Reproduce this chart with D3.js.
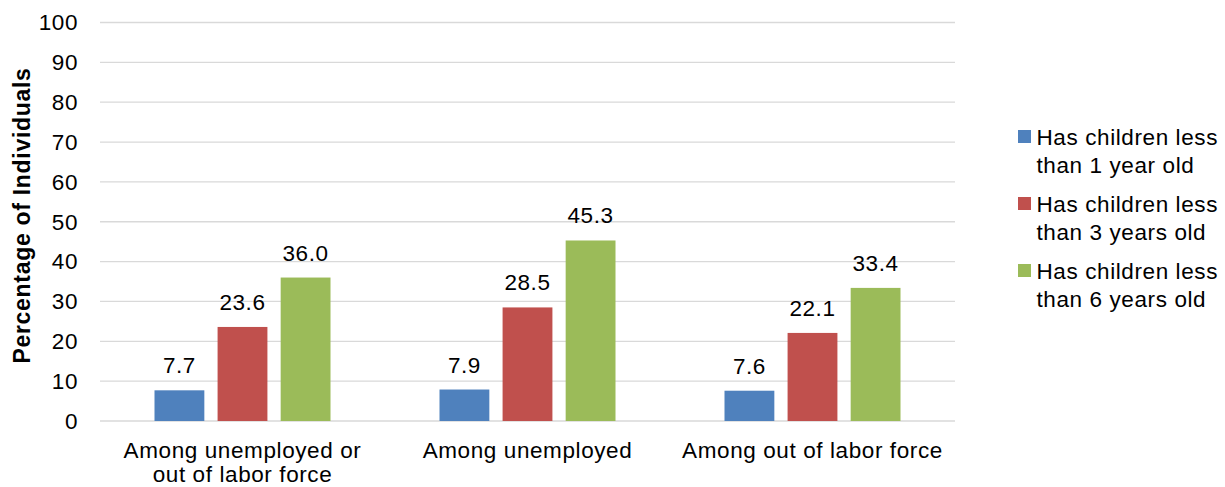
<!DOCTYPE html>
<html>
<head>
<meta charset="utf-8">
<script src="https://cdn.jsdelivr.net/npm/d3@7"></script>
<style>
  html, body { margin: 0; padding: 0; background: #fff; }
  svg { display: block; font-family: "Liberation Sans", Arial, sans-serif; }
  .lbl { letter-spacing: 0.6px; }
</style>
</head>
<body>
<svg id="chart" width="1225" height="487"></svg>
<script>
// Category labels (each entry is a list of lines)
const categories = [
  ["Among unemployed or", "out of labor force"],
  ["Among unemployed"],
  ["Among out of labor force"]
];
const seriesNames = [
  ["Has children less", "than 1 year old"],
  ["Has children less", "than 3 years old"],
  ["Has children less", "than 6 years old"]
];
const seriesColors = ["#4f81bd", "#c0504d", "#9bbb59"];
const lessThan1 = [7.7, 7.9, 7.6];
const lessThan3 = [23.6, 28.5, 22.1];
const lessThan6 = [36.0, 45.3, 33.4];
const yTicks = [0, 10, 20, 30, 40, 50, 60, 70, 80, 90, 100];

const series = [lessThan1, lessThan3, lessThan6];
const FS = 22.5;

const svg = d3.select("#chart");
const plot = { left: 100, right: 955, top: 22.5, bottom: 421 };

const x0 = d3.scaleBand()
  .domain(d3.range(categories.length))
  .range([plot.left, plot.right]);

const x1 = d3.scaleBand()
  .domain(d3.range(series.length))
  .range([0, 176])
  .paddingInner(0.21);

const y = d3.scaleLinear().domain([0, 100]).range([plot.bottom, plot.top]);

// Horizontal gridlines
svg.append("g")
  .selectAll("line")
  .data(yTicks)
  .join("line")
  .attr("x1", plot.left).attr("x2", plot.right)
  .attr("y1", d => y(d)).attr("y2", d => y(d))
  .attr("stroke", "#d9d9d9").attr("stroke-width", 1.3);

// Y tick labels
svg.append("g")
  .selectAll("text")
  .data(yTicks)
  .join("text")
  .attr("class", "lbl")
  .attr("x", 78).attr("y", d => y(d))
  .attr("dy", "0.35em")
  .attr("text-anchor", "end")
  .attr("font-size", FS)
  .attr("fill", "#000")
  .text(d => d);

// Y axis title
svg.append("text")
  .attr("transform", `translate(29.5,215.5) rotate(-90)`)
  .attr("text-anchor", "middle")
  .attr("font-size", 23)
  .attr("font-weight", "bold")
  .attr("letter-spacing", "0.7px")
  .text("Percentage of Individuals");

// Bars and value labels
const groups = svg.append("g")
  .selectAll("g")
  .data(categories.map((c, i) => i))
  .join("g")
  .attr("transform", i => `translate(${x0(i) + x0.bandwidth() / 2 - 88},0)`);

const cells = i => series.map((s, k) => ({ k, v: s[i] }));

groups.selectAll("rect")
  .data(cells)
  .join("rect")
  .attr("x", d => x1(d.k))
  .attr("width", x1.bandwidth())
  .attr("y", d => y(d.v))
  .attr("height", d => y(0) - y(d.v))
  .attr("fill", d => seriesColors[d.k]);

groups.selectAll("text")
  .data(cells)
  .join("text")
  .attr("class", "lbl")
  .attr("x", d => x1(d.k) + x1.bandwidth() / 2)
  .attr("y", d => y(d.v) - 17)
  .attr("text-anchor", "middle")
  .attr("font-size", FS)
  .text(d => d.v.toFixed(1));

// Category labels
svg.append("g")
  .selectAll("text")
  .data(categories)
  .join("text")
  .attr("class", "lbl")
  .attr("x", (d, i) => x0(i) + x0.bandwidth() / 2)
  .attr("y", 458)
  .attr("text-anchor", "middle")
  .attr("font-size", FS)
  .selectAll("tspan")
  .data(d => d)
  .join("tspan")
  .attr("x", function () { return this.parentNode.getAttribute("x"); })
  .attr("dy", (d, j) => j === 0 ? 0 : 24)
  .text(d => d);

// Legend
const legend = svg.append("g")
  .selectAll("g")
  .data(seriesNames)
  .join("g")
  .attr("transform", (d, i) => `translate(1018,${130 + i * 67})`);

legend.append("rect")
  .attr("width", 13).attr("height", 13)
  .attr("fill", (d, i) => seriesColors[i]);

legend.append("text")
  .attr("class", "lbl")
  .attr("x", 18.5).attr("y", 14.5)
  .attr("font-size", FS)
  .selectAll("tspan")
  .data(d => d)
  .join("tspan")
  .attr("x", 18.5)
  .attr("dy", (d, j) => j === 0 ? 0 : 28)
  .text(d => d);
</script>
</body>
</html>
